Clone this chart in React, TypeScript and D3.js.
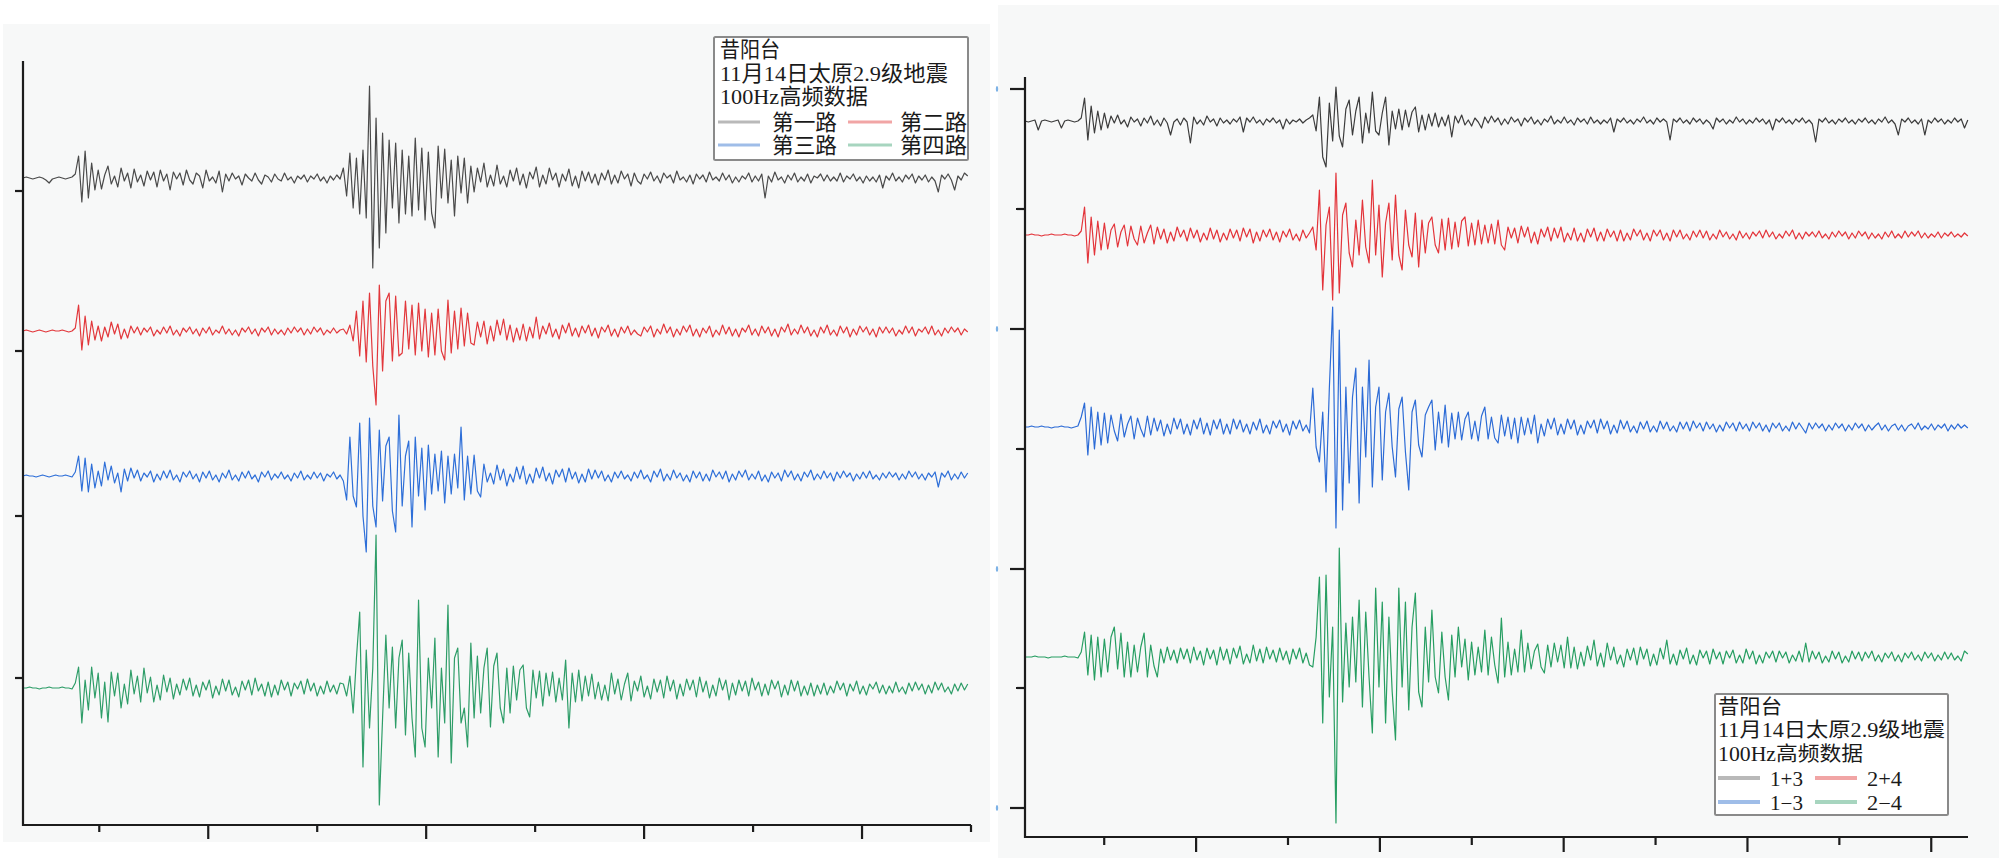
import React from 'react';
import * as d3 from 'd3';

// ---------------- DATA ----------------
// Left panel: four channels, sampled every 0.15 time units starting at t = 1.5
const leftT0 = 1.5;
const leftDt = 0.15;
const leftXDomain: [number, number] = [1.5, 45];
const leftYDomain: [number, number] = [0, 764];
const leftOffsets = [647, 494, 349, 137];
const leftYTicks = [147, 309, 474, 634];
const leftXMajor = [10, 20, 30, 40];
const leftXMinor = [5, 15, 25, 35, 45];
const leftLabels = ['第一路', '第二路', '第三路', '第四路'];

const leftGray = [
  0,1,0,-1,0,1,0,-2,-5,-1,0,1,0,-1,0,1,
  4,22,-24,27,-20,15,-12,
  8,-11,3,12,-6,2,-9,10,-3,5,-10,9,-4,3,-8,7,-2,6,-9,8,-3,4,-12,6,-1,5,-7,8,-2,-6,5,2,-10,8,-3,1,-5,7,
  -14,4,-3,5,-1,2,-7,4,0,-3,5,-2,-6,3,1,-4,4,-1,-3,5,-2,1,-5,2,-1,3,-4,2,-1,4,-3,1,-5,2,-2,3,-1,
  10,-18,25,-30,20,-36,28,-40,92,-90,60,-70,45,-55,38,-30,35,-45,28,-36,22,-38,40,-32,30,-42,26,-35,-50,32,-20,29,-25,18,-38,22,-15,20,-25,12,
  -14,10,-4,15,-9,3,-8,13,-6,2,-9,8,-3,10,-7,4,-10,6,-1,11,-9,3,-6,10,-2,5,-9,4,-3,9,-8,2,-10,7,-3,6,-5,4,-7,5,-2,8,-6,3,-5,7,-1,4,-8,5,-3,
  -6,4,-1,6,-3,2,-5,5,0,3,
  -5,7,-2,1,-4,3,-6,4,-1,3,
  -4,6,-2,1,-3,5,-2,3,-5,1,
  -4,2,-1,5,-4,2,-3,4,-20,2,
  -4,6,-2,1,-5,3,-2,5,-4,1,
  -3,4,-5,2,0,4,-3,3,-3,1,
  -3,5,-4,2,-1,4,-3,1,-5,2,
  -3,1,-4,3,-10,2,-2,5,-3,1,
  -4,3,-1,4,-5,2,-2,3,-4,1,
  -3,-14,3,-1,4,-2,-12,2,-2,5,
  2,
];

const leftRed = [
  0,1,0,-1,0,1,0,-1,0,1,0,0,1,0,-1,0,
  3,26,-19,15,-14,10,-9,
  5,-10,4,-6,9,-3,7,-8,2,-7,5,-2,4,-4,3,-1,4,-5,1,-3,4,-2,5,-4,1,-5,3,-1,4,-3,2,-5,3,-2,4,-4,1,-2,
  5,-3,2,-4,1,-5,3,-1,4,-3,2,-5,3,-1,4,-4,2,-3,1,-4,3,-2,4,-1,3,-4,2,-3,4,-1,3,-4,1,-2,3,-2,1,
  2,-3,6,-10,20,-25,30,-31,38,-35,-74,46,-40,30,38,-30,35,-25,-22,30,-18,26,-24,28,-20,22,-26,18,-24,22,-20,-29,31,-22,20,-18,23,-15,18,-12,
  -14,9,-6,10,-13,5,-10,11,-4,12,-9,6,-11,3,-9,7,-10,4,-7,14,-8,5,-3,8,-6,2,-8,6,-2,8,-5,3,-6,5,-2,6,-5,3,-7,4,-1,6,-5,2,-6,4,-2,5,-4,1,-3,
  -5,4,-1,5,-6,2,-3,7,-2,4,
  -6,2,-4,5,-1,6,-5,2,-6,3,
  -2,5,-6,1,-4,6,-3,4,-5,2,
  -6,3,-1,6,-4,2,-5,5,-2,4,
  -5,2,-6,4,-1,7,-4,2,-3,6,
  -2,4,-5,1,-6,4,-2,6,-4,1,
  -5,5,-2,4,-6,2,-4,5,-1,4,
  -4,2,-6,4,-2,4,-2,3,-5,1,
  -3,5,-2,4,-5,2,-1,4,-3,5,
  -4,1,-5,3,-2,4,-1,3,-4,2,
  -1,
];

const leftBlue = [
  0,1,0,0,-1,0,1,0,-1,0,1,0,0,1,0,-1,
  4,20,-15,18,-16,12,-12,
  5,-10,14,-4,10,-7,3,-16,7,-5,8,-2,6,-5,3,-1,5,-6,2,-4,5,-2,6,-4,1,-6,4,-1,5,-3,2,-6,4,-2,5,-4,1,-6,
  3,-2,6,-4,1,-5,4,-2,5,-3,1,-6,4,-1,5,-4,2,-2,4,-3,1,-5,3,-2,5,-4,1,-3,4,-2,3,-5,2,-1,4,-3,1,
  -5,-24,39,-20,-31,53,-40,-76,58,-30,-51,46,-25,30,39,-35,-56,61,-30,20,35,-51,39,-20,28,-34,31,-18,22,-15,25,-27,20,-18,22,-12,49,-24,20,-18,
  21,-15,-21,12,-6,3,-8,11,-4,7,-10,2,-6,9,-3,10,-8,2,-7,8,-2,9,-5,3,-8,6,-1,7,-6,8,-3,4,-7,2,-6,7,-3,6,-2,5,-5,1,-6,4,-2,5,-3,1,-5,4,-2,
  6,-3,1,-6,5,-1,7,-5,2,-4,
  6,-2,3,-5,1,-6,5,-2,4,-5,
  2,-5,6,-1,4,-3,5,-6,2,-4,
  5,-1,6,-4,2,-3,5,-5,1,-6,
  4,-2,3,-5,6,-1,5,-4,2,-5,
  4,-1,6,-4,2,-3,5,-2,3,-5,
  4,-2,5,-1,3,-5,2,-3,4,-2,
  5,-3,1,-4,3,-2,4,-1,3,-4,
  2,-3,5,-1,4,-3,2,-4,3,-1,
  4,-11,3,-1,5,-4,2,-3,4,-2,
  3,
];

const leftGreen = [
  0,0,1,0,0,-1,0,0,1,0,0,0,1,0,0,-1,
  5,21,-35,8,-22,21,-10,
  15,-30,6,-34,16,-8,15,-20,4,-16,18,-6,12,-14,20,-5,11,-14,3,-12,13,-4,10,-11,4,-7,9,-2,10,-8,3,-9,6,-2,8,-10,2,-7,
  9,-3,8,-7,1,-9,7,-2,8,-7,10,-3,4,-8,6,-9,3,-7,8,-2,6,-8,5,-1,7,-6,9,-3,5,-8,2,-6,7,-4,3,-6,5,
  4,-8,12,-25,30,76,-79,38,-40,20,153,-117,-30,53,-20,41,-40,30,48,-47,35,-30,-69,88,-40,-59,30,-20,50,-69,20,-35,83,-75,30,40,-35,-20,-59,45,
  -30,32,-25,20,40,-39,22,35,-20,-35,20,-25,22,-12,18,23,-20,-29,18,-10,17,-18,15,-8,16,-14,10,-12,28,-40,15,-14,18,-13,12,-8,14,-11,6,-12,3,-13,15,-6,9,-12,4,15,-13,7,-3,
  12,-9,2,-11,9,-4,8,-10,12,-3,
  8,-11,4,-8,9,-2,8,-9,11,-4,
  7,-10,3,-8,10,-2,8,-12,5,-7,
  8,-3,7,-8,10,-2,6,-8,4,-7,
  8,-1,7,-9,3,-7,8,-3,7,-8,
  2,-7,5,-8,3,-6,5,-7,2,-5,
  7,-2,5,-8,4,-3,7,-6,2,-7,
  4,-1,6,-5,3,-6,2,-5,6,-4,
  1,-6,5,-3,6,-2,4,-6,3,-5,
  6,-2,5,-4,1,-6,4,-3,5,-2,
  4,
];

// Right panel: four combinations, sampled every 0.18 time units starting at t = 0.69
const rightT0 = 0.69;
const rightDt = 0.18;
const rightXDomain: [number, number] = [0.69, 52.0];
const rightYDomain: [number, number] = [0, 760];
const rightOffsets = [716, 602, 410, 180];
const rightYMajor = [29, 268, 508, 748];
const rightYMinor = [149, 388, 628];
const rightXMajor = [10, 20, 30, 40, 50];
const rightXMinor = [5, 15, 25, 35, 45];
const rightLabels = ['1+3', '2+4', '1−3', '2−4'];

const rightGray = [
  0,-1,0,1,-9,0,1,0,-1,0,1,-7,0,1,0,-1,0,
  3,23,-19,15,-12,10,-9,
  8,-7,5,-2,6,-3,1,-6,4,-1,2,-5,3,-2,5,-4,1,-5,3,-2,-14,-1,2,-4,
  3,-1,-22,4,-3,1,-4,5,-1,2,-5,3,-2,1,-3,2,-1,4,-11,3,-1,4,-2,1,-4,2,-1,3,-2,1,-8,2,-3,1,-1,2,-2,1,3,
  6,-10,24,-36,-46,18,-20,34,-15,-26,12,21,-14,10,24,-22,8,-12,29,-10,-14,8,24,-24,10,-8,12,-9,11,-6,9,14,-11,6,-9,7,-5,8,-6,4,-5,6,
  -16,5,-2,6,-4,1,-5,3,-1,-7,4,-2,5,-1,3,-4,2,-3,4,-1,2,-5,3,-1,4,-3,1,-4,2,-1,5,-3,1,-2,4,-2,1,-4,3,-1,2,-3,4,-2,1,
  -3,1,-2,3,-11,2,-1,3,-2,1,
  -3,2,-1,4,-2,1,-3,3,-1,2,
  -1,-19,2,-1,3,-2,1,-3,3,-1,
  2,-3,1,-2,-8,3,-1,2,-3,1,
  -2,4,-1,2,-3,1,-2,3,-1,2,
  -3,1,-9,2,-1,3,-2,1,-3,2,
  -1,3,-2,1,-3,-21,2,-1,3,-2,
  1,-3,2,-1,3,-2,1,-3,2,-1,
  3,-2,1,-3,2,-1,4,-2,1,-3,
  -14,2,-1,3,-2,1,-3,2,-14,1,
  -2,3,-1,2,-3,1,-2,3,-1,2,
  -7,1,
];

const rightRed = [
  0,0,1,0,0,-1,0,0,1,0,0,0,1,0,0,-1,0,
  4,28,-28,18,-20,14,-15,
  12,-14,5,11,-12,3,10,-11,9,-4,-10,9,-8,2,10,-9,8,-4,6,-8,3,-6,8,-2,
  5,-6,7,-3,5,-7,2,-5,7,-4,5,-7,2,-5,6,-3,5,-6,7,-2,6,-8,3,-6,5,-2,6,-5,3,-7,4,-2,6,-5,1,-6,5,-3,2,
  8,-15,45,-55,10,28,-65,62,-58,20,32,-18,-32,15,-20,35,-12,-28,55,-20,30,-42,12,32,-25,40,-20,-35,25,-10,-22,22,-32,15,-18,12,18,-10,-18,16,-15,17,
  -14,13,-12,14,18,-11,12,-10,15,-9,10,-8,11,-9,15,-10,-15,8,-3,7,-8,9,-2,8,-8,3,-9,6,-2,8,-6,7,-3,8,-7,2,-5,7,-6,2,-7,6,-2,7,-6,
  3,-6,6,-2,4,-6,5,-6,2,-5,
  6,-1,5,-5,2,-6,5,-1,5,-5,
  2,-6,5,-2,5,-4,1,-5,4,-2,
  5,-3,4,-5,1,-4,5,-2,3,-4,
  1,-5,4,-3,2,-4,3,-1,4,-3,
  5,-2,3,-4,1,-3,4,-1,5,-4,
  2,-4,3,-1,3,-2,4,-3,1,-4,
  3,-2,4,-1,3,-4,2,-3,4,-1,
  3,-4,2,-3,1,-4,3,-2,4,-3,
  1,-3,4,-2,3,-1,4,-3,2,-3,
  1,-2,3,-3,2,-1,3,-2,1,-2,
  2,-1,
];

const rightBlue = [
  0,0,1,0,0,1,0,0,-1,0,0,1,0,0,-1,0,1,
  10,24,-28,20,-22,15,-18,
  14,-16,12,-4,-14,13,-10,3,11,-12,9,-2,-10,11,-8,9,-4,7,-9,3,-7,9,-2,8,
  -7,3,-8,7,-2,9,-7,4,-8,7,-2,8,-7,3,-7,8,-2,7,-5,3,-7,5,-3,8,-6,2,-7,6,-1,7,-5,3,-8,6,-2,7,-4,2,-6,
  39,-20,-35,15,-65,39,120,-101,97,-83,40,-56,30,59,-76,40,-30,67,-60,20,40,-53,15,34,-20,-50,18,30,-25,-63,15,27,-18,-30,12,20,27,-23,15,-16,22,-20,
  14,-12,15,-13,8,15,-12,6,-14,11,20,-12,10,-11,-16,12,-9,10,-12,9,-16,10,-8,9,-7,12,-16,3,-9,8,-2,9,-8,3,-7,8,-2,7,-8,2,-7,6,-1,7,-6,
  8,-2,6,-7,2,-6,7,-2,6,-5,
  1,-6,5,-2,6,-5,1,-5,6,-2,
  5,-4,1,-5,5,-2,5,-4,6,-1,
  4,-4,5,-2,3,-5,2,-4,5,-1,
  4,-4,5,-2,3,-4,5,-1,4,-4,
  2,-5,4,-1,4,-4,1,-4,5,-2,
  4,-1,-6,4,-2,4,-1,3,-4,2,
  -3,4,-1,3,-4,2,-3,4,-1,3,
  -4,2,-3,1,4,-3,2,-4,1,3,
  -3,2,-4,1,3,-2,4,-3,1,-2,
  3,-3,2,-1,3,-4,2,-2,3,-1,
  2,-1,
];

const rightGreen = [
  0,0,0,1,0,0,0,-1,0,0,0,0,1,0,0,0,-1,
  5,25,-18,22,-23,20,-20,
  18,-15,20,30,-12,24,-20,15,-20,12,-15,10,24,-20,12,-9,-20,8,-6,10,-3,7,-6,9,
  -2,8,-6,10,-3,6,-8,9,-2,7,-8,10,-3,8,-7,9,-1,11,-7,3,-6,12,-4,8,-6,10,-2,7,-5,9,-3,6,-7,8,-2,9,-6,4,-8,
  -10,20,80,-66,82,-40,30,-166,109,-45,34,-30,40,-25,57,-50,45,-20,-76,69,-30,55,-66,40,-35,-83,69,-30,55,-53,30,64,-35,-50,30,-25,47,-20,-36,25,-20,-43,
  22,-20,30,-10,18,-23,15,-18,10,-15,27,-18,20,-8,-26,39,-20,15,-18,8,-15,27,-15,14,-12,6,13,-10,-16,12,-10,14,-5,12,-11,20,-11,10,-12,5,-9,11,-3,17,-9,
  4,-10,14,-3,10,-7,2,-10,8,-3,
  9,-8,10,-2,8,-9,3,-8,9,-2,
  17,-7,3,-8,7,-2,9,-7,2,-8,
  7,-1,6,-7,8,-2,5,-7,6,-1,
  7,-6,2,-6,8,-2,6,-7,2,-6,
  5,-1,6,-5,6,-1,5,-6,2,-4,
  6,-5,14,-5,6,-2,5,-6,1,-5,
  6,-2,5,-6,1,-5,6,-2,5,-4,
  5,-1,6,-4,2,-5,4,-1,5,-4,
  2,-5,4,-1,5,-3,2,-4,5,-1,
  4,-4,2,-3,5,-2,4,-3,1,-4,
  6,3,
];

const titleLines = ['昔阳台', '11月14日太原2.9级地震', '100Hz高频数据'];

// ---------------- STYLE ----------------
const traceColorsLeft = ['#4a4a4a', '#e2383c', '#2e6fd8', '#2e9d68'];
const traceColorsRight = ['#3c3c3c', '#e3343a', '#2c6bd6', '#279e62'];
const legendColors = ['#b9b9b9', '#f1a5a5', '#9fbde8', '#a7d5bf'];
const panelBg = '#f7f8f8';
const axisColor = '#1c1c1c';
const fontFamily = "'Liberation Serif', 'Noto Sans CJK SC', serif";

type PanelSpec = {
  bg: [number, number, number, number];
  xRange: [number, number];
  yRange: [number, number];
  xDomain: [number, number];
  yDomain: [number, number];
  t0: number;
  dt: number;
  series: number[][];
  offsets: number[];
  colors: string[];
  yMajor: number[];
  yMinor: number[];
  xMajor: number[];
  xMinor: number[];
  yMajorLen: number;
  yMinorLen: number;
  xMajorLen: number;
  xMinorLen: number;
  labelMarks: boolean;
};

function Panel({ p }: { p: PanelSpec }) {
  const x = d3.scaleLinear().domain(p.xDomain).range(p.xRange);
  const y = d3.scaleLinear().domain(p.yDomain).range(p.yRange);
  const [x0, x1] = p.xRange;
  const [yb, yt] = p.yRange;
  return (
    <g>
      <rect x={p.bg[0]} y={p.bg[1]} width={p.bg[2]} height={p.bg[3]} fill={panelBg} />
      {p.series.map((s, k) => {
        const line = d3
          .line<number>()
          .x((_, i) => x(p.t0 + i * p.dt))
          .y((v) => y(p.offsets[k] + v));
        return (
          <path
            key={k}
            d={line(s) || ''}
            fill="none"
            stroke={p.colors[k]}
            strokeWidth={1.2}
            strokeLinejoin="round"
          />
        );
      })}
      <line x1={x0} y1={yt} x2={x0} y2={yb + 1} stroke={axisColor} strokeWidth={2.2} />
      <line x1={x0 - 1} y1={yb} x2={x1} y2={yb} stroke={axisColor} strokeWidth={2.2} />
      {p.yMajor.map((v) => (
        <line key={'ym' + v} x1={x0 - p.yMajorLen} x2={x0} y1={y(v)} y2={y(v)} stroke={axisColor} strokeWidth={2.2} />
      ))}
      {p.yMinor.map((v) => (
        <line key={'yn' + v} x1={x0 - p.yMinorLen} x2={x0} y1={y(v)} y2={y(v)} stroke={axisColor} strokeWidth={2.2} />
      ))}
      {p.xMajor.map((v) => (
        <line key={'xm' + v} x1={x(v)} x2={x(v)} y1={yb} y2={yb + p.xMajorLen} stroke={axisColor} strokeWidth={2.2} />
      ))}
      {p.xMinor.map((v) => (
        <line key={'xn' + v} x1={x(v)} x2={x(v)} y1={yb} y2={yb + p.xMinorLen} stroke={axisColor} strokeWidth={2.2} />
      ))}
      {p.labelMarks &&
        p.yMajor.map((v) => (
          <ellipse key={'lm' + v} cx={x0 - 28} cy={y(v)} rx={1.2} ry={3} fill="#7db2e6" />
        ))}
    </g>
  );
}

type Col = { l0: number; l1: number; tx: number };

function Legend({
  box,
  labels,
  textX,
  baselines,
  widths,
  fontSize,
  rows,
  cols,
  lineW,
}: {
  box: [number, number, number, number];
  labels: string[];
  textX: number;
  baselines: number[];
  widths: number[];
  fontSize: number;
  rows: { lineY: number; base: number }[];
  cols: Col[];
  lineW: number;
}) {
  const [bx, by, bw, bh] = box;
  return (
    <g fontFamily={fontFamily} fill="#1a1a1a">
      <rect x={bx} y={by} width={bw} height={bh} fill="#ffffff" stroke="#8a8a8a" strokeWidth={2} rx={1.5} />
      {titleLines.map((t, i) => (
        <text key={t} x={textX} y={baselines[i]} fontSize={fontSize} textLength={widths[i]} lengthAdjust="spacingAndGlyphs">
          {t}
        </text>
      ))}
      {labels.map((lab, i) => {
        const r = rows[Math.floor(i / 2)];
        const c = cols[i % 2];
        return (
          <g key={lab}>
            <line x1={bx + c.l0} x2={bx + c.l1} y1={r.lineY} y2={r.lineY} stroke={legendColors[i]} strokeWidth={lineW} />
            <text
              x={bx + c.tx}
              y={r.base}
              fontSize={fontSize}
              textLength={widths[3 + (i % 2)]}
              lengthAdjust="spacingAndGlyphs"
            >
              {lab}
            </text>
          </g>
        );
      })}
    </g>
  );
}

export default function App() {
  const left: PanelSpec = {
    bg: [3, 24, 987, 818],
    xRange: [23, 971],
    yRange: [825, 61],
    xDomain: leftXDomain,
    yDomain: leftYDomain,
    t0: leftT0,
    dt: leftDt,
    series: [leftGray, leftRed, leftBlue, leftGreen],
    offsets: leftOffsets,
    colors: traceColorsLeft,
    yMajor: leftYTicks,
    yMinor: [],
    xMajor: leftXMajor,
    xMinor: leftXMinor,
    yMajorLen: 8,
    yMinorLen: 8,
    xMajorLen: 14,
    xMinorLen: 7,
    labelMarks: false,
  };
  const right: PanelSpec = {
    bg: [998, 5, 1001, 853],
    xRange: [1025, 1968],
    yRange: [837, 77],
    xDomain: rightXDomain,
    yDomain: rightYDomain,
    t0: rightT0,
    dt: rightDt,
    series: [rightGray, rightRed, rightBlue, rightGreen],
    offsets: rightOffsets,
    colors: traceColorsRight,
    yMajor: rightYMajor,
    yMinor: rightYMinor,
    xMajor: rightXMajor,
    xMinor: rightXMinor,
    yMajorLen: 15,
    yMinorLen: 9,
    xMajorLen: 15,
    xMinorLen: 8,
    labelMarks: true,
  };
  return (
    <div style={{ position: 'absolute', left: 0, top: 0 }}>
      <svg width={1999} height={864} style={{ display: 'block', background: '#ffffff' }}>
        <Panel p={left} />
        <Panel p={right} />
        <Legend
          box={[714, 37, 254, 123]}
          labels={leftLabels}
          textX={720}
          baselines={[57, 81, 104]}
          widths={[60, 228, 148, 65, 67]}
          fontSize={22}
          rows={[
            { lineY: 122, base: 130 },
            { lineY: 145, base: 153 },
          ]}
          cols={[
            { l0: 4, l1: 46, tx: 58 },
            { l0: 134, l1: 178, tx: 186 },
          ]}
          lineW={3}
        />
        <Legend
          box={[1715, 694, 233, 121]}
          labels={rightLabels}
          textX={1718}
          baselines={[714, 737, 761]}
          widths={[64, 227, 145, 33, 35]}
          fontSize={20}
          rows={[
            { lineY: 778, base: 786 },
            { lineY: 802, base: 810 },
          ]}
          cols={[
            { l0: 3, l1: 45, tx: 55 },
            { l0: 100, l1: 142, tx: 152 },
          ]}
          lineW={4}
        />
      </svg>
    </div>
  );
}
